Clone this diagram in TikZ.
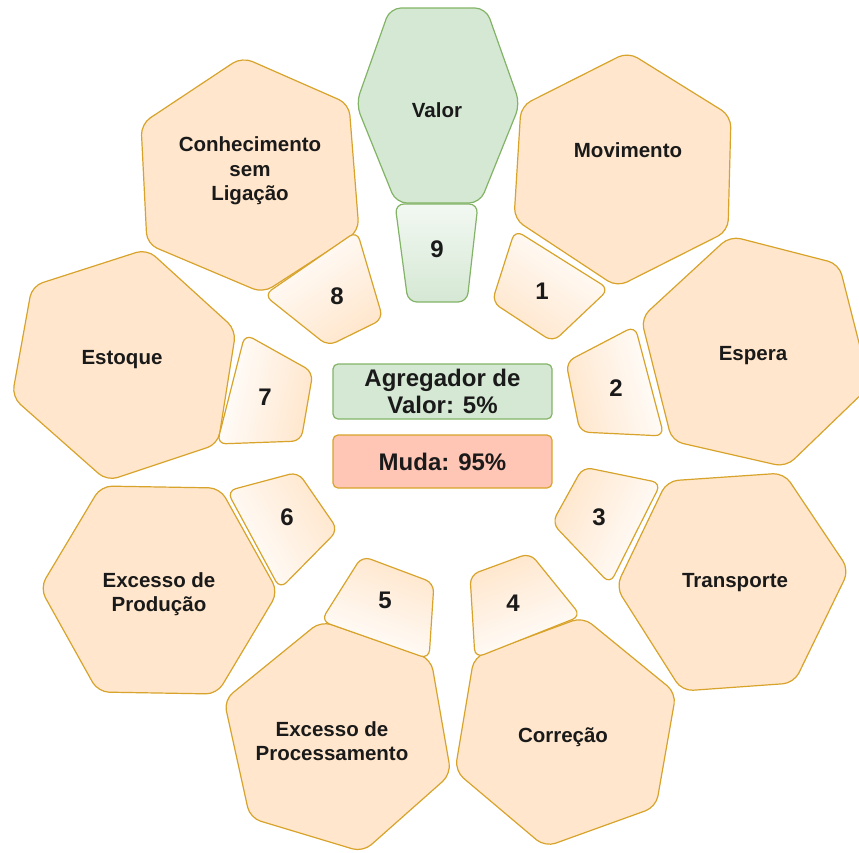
\documentclass[tikz,border=0pt]{standalone}
\usepackage{fontspec}
\setmainfont{Liberation Sans}
\definecolor{orfill}{HTML}{FFE6CC}
\definecolor{orline}{HTML}{D8A32A}
\definecolor{grfill}{HTML}{D5E8D4}
\definecolor{grline}{HTML}{82B366}
\definecolor{mudafill}{HTML}{FFC6B6}
\definecolor{ink}{HTML}{1A1A1A}
\begin{document}
\begin{tikzpicture}[x=1pt,y=-1pt,
  bigcell/.style={draw=orline, fill=orfill, line width=1.2pt, rounded corners=11pt, line join=round},
  valcell/.style={draw=grline, fill=grfill, line width=1.2pt, rounded corners=11pt, line join=round},
  piece/.style={draw=orline, line width=1.2pt, rounded corners=9pt, line join=round},
  gpiece/.style={draw=grline, line width=1.2pt, rounded corners=9pt, line join=round},
  cellname/.style={font=\fontsize{20.5}{24.6}\selectfont\bfseries, align=center, text=ink, inner sep=0pt},
  numlabel/.style={font=\fontsize{24}{28}\selectfont\bfseries, text=ink, inner sep=0pt},
  sumbox/.style={rounded corners=5pt, line width=1.2pt, minimum width=219pt, align=center,
    font=\fontsize{24}{27}\selectfont\bfseries, text=ink, inner sep=0pt}]
\useasboundingbox (0,0) rectangle (859,852);
\clip (0,0) rectangle (859,852);

% outer cells
\draw[valcell] (390,8) -- (486,8) -- (520,104) -- (480,203) -- (396,203) -- (356,104) -- cycle;
\draw[bigcell] (628,52) -- (731,116) -- (728,231) -- (617,287) -- (514,219) -- (521,106) -- cycle;
\draw[bigcell] (730,236) -- (839,264) -- (870,386) -- (786,467) -- (672,441) -- (641,318) -- cycle;
\draw[bigcell] (667,481) -- (784,473) -- (849,570) -- (794,683) -- (682,691) -- (616,587) -- cycle;
\draw[bigcell] (474,657) -- (583,617) -- (676,693) -- (656,807) -- (545,847) -- (455,771) -- cycle;
\draw[bigcell] (321,621) -- (431,659) -- (451,774) -- (363,852) -- (250,818) -- (224,700) -- cycle;
\draw[bigcell] (220,488) -- (278,592) -- (217,694) -- (98,692) -- (40,588) -- (101,486) -- cycle;
\draw[bigcell] (147,249) -- (236,330) -- (218,444) -- (107,481) -- (12,397) -- (32,286) -- cycle;
\draw[bigcell] (242,57) -- (349,104) -- (359,231) -- (263,293) -- (147,244) -- (141,124) -- cycle;

% inner pieces, shaded from the cell colour towards white on the outer side
\path[gpiece, top color=white!70!grfill, bottom color=grfill, shading angle=0]
  (395,204) -- (478,204) -- (467,302) -- (408,302) -- cycle;
\path[piece, top color=white, bottom color=orfill, shading angle=-34]
  (515,230) -- (609,289) -- (553,342) -- (492,302) -- cycle;
\path[piece, top color=white, bottom color=orfill, shading angle=-75]
  (635,326) -- (664,436) -- (580,432) -- (566,362) -- cycle;
\path[piece, top color=white, bottom color=orfill, shading angle=-115]
  (583,467) -- (661,483) -- (610,584) -- (552,523) -- cycle;
\path[piece, top color=white, bottom color=orfill, shading angle=-159]
  (470,575) -- (530,553) -- (581,616) -- (475,658) -- cycle;
\path[piece, top color=white, bottom color=orfill, shading angle=-200]
  (362,556) -- (434,583) -- (429,659) -- (321,621) -- cycle;
\path[piece, top color=white, bottom color=orfill, shading angle=-240]
  (227,491) -- (298,472) -- (338,530) -- (280,589) -- cycle;
\path[piece, top color=white, bottom color=orfill, shading angle=78]
  (245,334) -- (313,372) -- (301,441) -- (217,444) -- cycle;
\path[piece, top color=white, bottom color=orfill, shading angle=35]
  (357,231) -- (383,319) -- (328,346) -- (264,295) -- cycle;

% cell names
\node[cellname] (valor) at (437,110) {Valor};
\node[cellname] (movimento) at (628,150) {Movimento};
\node[cellname] (espera) at (753,356) {Espera};
\node[cellname] (transporte) at (735,583) {Transporte};
\node[cellname] (correcao) at (563,737) {Correção};
\node[cellname] (processamento) at (332,741) {Excesso de\\Processamento};
\node[cellname] (producao) at (159,594) {Excesso de\\Produção};
\node[cellname] (estoque) at (122,360) {Estoque};
\node[cellname] (conhecimento) at (250,171) {Conhecimento\\sem\\Ligação};

% piece numbers
\node[numlabel] (n9) at (437,249) {9};
\node[numlabel] (n1) at (542,291) {1};
\node[numlabel] (n2) at (616,388) {2};
\node[numlabel] (n3) at (599,517) {3};
\node[numlabel] (n4) at (513,603) {4};
\node[numlabel] (n5) at (385,600) {5};
\node[numlabel] (n6) at (287,517) {6};
\node[numlabel] (n7) at (265,397) {7};
\node[numlabel] (n8) at (337,296) {8};

% summary boxes in the middle
\node[sumbox, draw=grline, fill=grfill, minimum height=55pt] (agregador) at (442.5,391.5)
  {Agregador de\\Valor: 5\%};
\node[sumbox, draw=orline, fill=mudafill, minimum height=53pt] (muda) at (442.5,461.5)
  {Muda: 95\%};
\end{tikzpicture}
\end{document}
